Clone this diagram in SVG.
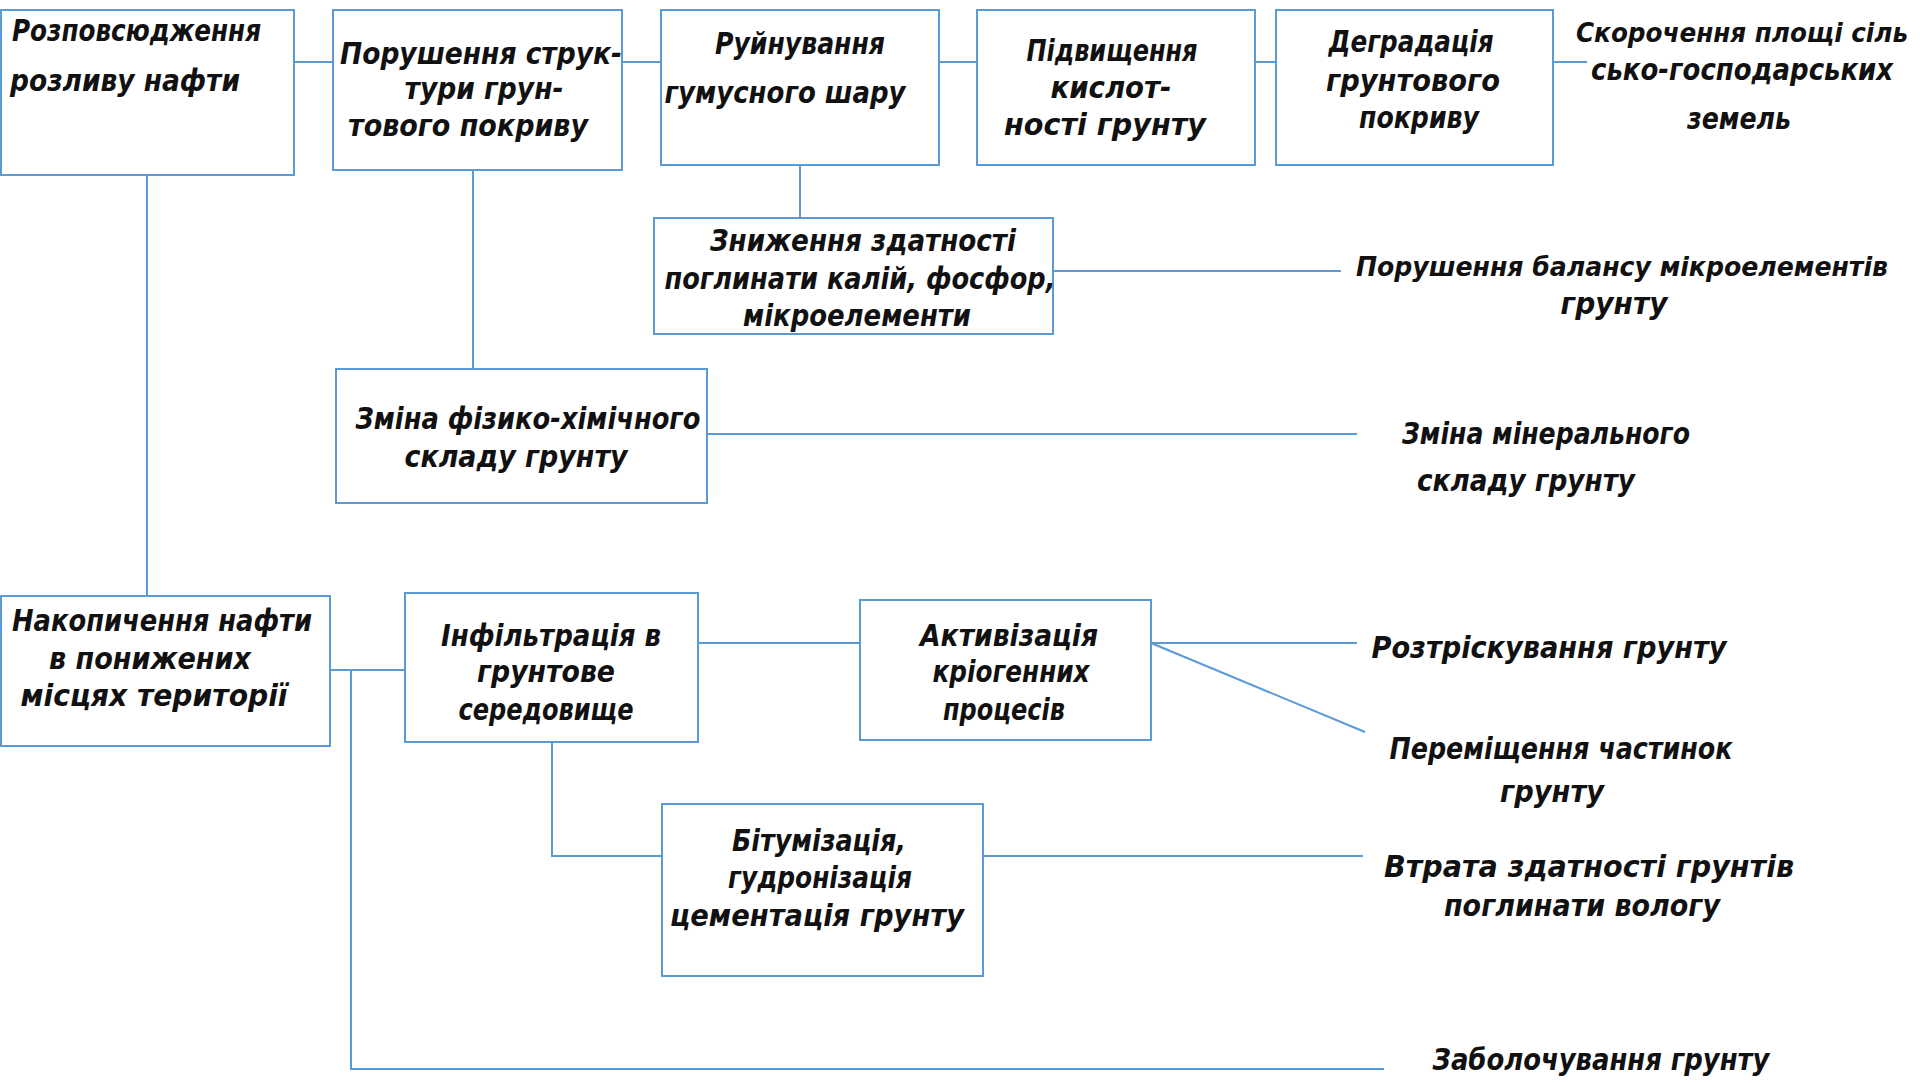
<svg xmlns="http://www.w3.org/2000/svg" width="1920" height="1083" viewBox="0 0 1920 1083">
  <style>
    .box { fill: #ffffff; stroke: #5b9bd5; stroke-width: 2; }
    .ln { fill: none; stroke: #5b9bd5; stroke-width: 2; }
    text { font-family: "DejaVu Sans", "Liberation Sans", sans-serif; font-stretch: condensed; font-style: italic; font-weight: bold; font-size: 31px; fill: #111111; }
    .c { text-anchor: middle; }
    .sm { font-size: 27px; }
  </style>
  <rect width="1920" height="1083" fill="#ffffff"/>

  <!-- connectors -->
  <g id="connectors">
    <line class="ln" x1="294" y1="62" x2="333" y2="62"/>
    <line class="ln" x1="622" y1="62" x2="661" y2="62"/>
    <line class="ln" x1="939" y1="62" x2="977" y2="62"/>
    <line class="ln" x1="1255" y1="62" x2="1276" y2="62"/>
    <line class="ln" x1="1553" y1="62" x2="1587" y2="62"/>
    <line class="ln" x1="147" y1="175" x2="147" y2="596"/>
    <line class="ln" x1="473" y1="170" x2="473" y2="369"/>
    <line class="ln" x1="800" y1="165" x2="800" y2="218"/>
    <line class="ln" x1="1053" y1="271" x2="1341" y2="271"/>
    <line class="ln" x1="707" y1="434" x2="1357" y2="434"/>
    <line class="ln" x1="330" y1="670" x2="405" y2="670"/>
    <polyline class="ln" points="351,670 351,1069 1384,1069"/>
    <line class="ln" x1="698" y1="643" x2="860" y2="643"/>
    <line class="ln" x1="1151" y1="643" x2="1357" y2="643"/>
    <line class="ln" x1="1151" y1="643" x2="1365" y2="732"/>
    <polyline class="ln" points="552,742 552,856 662,856"/>
    <line class="ln" x1="983" y1="856" x2="1363" y2="856"/>
  </g>

  <!-- oil spread -->
  <g id="n-spread">
    <rect class="box" x="1" y="10" width="293" height="165"/>
    <text x="12" y="41" textLength="249" lengthAdjust="spacingAndGlyphs">Розповсюдження</text>
    <text x="10" y="91" textLength="230" lengthAdjust="spacingAndGlyphs">розливу нафти</text>
  </g>

  <g id="n-structure">
    <rect class="box" x="333" y="10" width="289" height="160"/>
    <text class="c" x="481" y="64" textLength="282" lengthAdjust="spacingAndGlyphs">Порушення струк-</text>
    <text class="c" x="484" y="99" textLength="159" lengthAdjust="spacingAndGlyphs">тури грун-</text>
    <text class="c" x="468" y="136" textLength="240" lengthAdjust="spacingAndGlyphs">тового покриву</text>
  </g>

  <g id="n-humus">
    <rect class="box" x="661" y="10" width="278" height="155"/>
    <text class="c" x="800" y="54" textLength="170" lengthAdjust="spacingAndGlyphs">Руйнування</text>
    <text class="c" x="785" y="103" textLength="241" lengthAdjust="spacingAndGlyphs">гумусного шару</text>
  </g>

  <g id="n-acidity">
    <rect class="box" x="977" y="10" width="278" height="155"/>
    <text class="c" x="1112" y="61" textLength="171" lengthAdjust="spacingAndGlyphs">Підвищення</text>
    <text class="c" x="1111" y="98" textLength="121" lengthAdjust="spacingAndGlyphs">кислот-</text>
    <text class="c" x="1105" y="135" textLength="202" lengthAdjust="spacingAndGlyphs">ності грунту</text>
  </g>

  <g id="n-degradation">
    <rect class="box" x="1276" y="10" width="277" height="155"/>
    <text class="c" x="1411" y="52" textLength="165" lengthAdjust="spacingAndGlyphs">Деградація</text>
    <text class="c" x="1413" y="91" textLength="174" lengthAdjust="spacingAndGlyphs">грунтового</text>
    <text class="c" x="1419" y="128" textLength="120" lengthAdjust="spacingAndGlyphs">покриву</text>
  </g>

  <g id="n-farmland">
    <text class="c sm" x="1742" y="42" textLength="332" lengthAdjust="spacingAndGlyphs">Скорочення площі сіль</text>
    <text class="c" x="1742" y="80" textLength="302" lengthAdjust="spacingAndGlyphs">сько-господарських</text>
    <text class="c" x="1739" y="129" textLength="104" lengthAdjust="spacingAndGlyphs">земель</text>
  </g>

  <g id="n-absorption">
    <rect class="box" x="654" y="218" width="399" height="116"/>
    <text class="c" x="863" y="251" textLength="306" lengthAdjust="spacingAndGlyphs">Зниження здатності</text>
    <text class="c" x="860" y="289" textLength="391" lengthAdjust="spacingAndGlyphs">поглинати калій, фосфор,</text>
    <text class="c" x="857" y="326" textLength="228" lengthAdjust="spacingAndGlyphs">мікроелементи</text>
  </g>

  <g id="n-balance">
    <text class="c sm" x="1622" y="276" textLength="532" lengthAdjust="spacingAndGlyphs">Порушення балансу мікроелементів</text>
    <text class="c" x="1614" y="314" textLength="107" lengthAdjust="spacingAndGlyphs">грунту</text>
  </g>

  <g id="n-physchem">
    <rect class="box" x="336" y="369" width="371" height="134"/>
    <text class="c" x="528" y="429" textLength="345" lengthAdjust="spacingAndGlyphs">Зміна фізико-хімічного</text>
    <text class="c" x="516" y="467" textLength="223" lengthAdjust="spacingAndGlyphs">складу грунту</text>
  </g>

  <g id="n-mineral">
    <text class="c" x="1546" y="444" textLength="288" lengthAdjust="spacingAndGlyphs">Зміна мінерального</text>
    <text class="c" x="1526" y="491" textLength="218" lengthAdjust="spacingAndGlyphs">складу грунту</text>
  </g>

  <g id="n-accumulation">
    <rect class="box" x="1" y="596" width="329" height="150"/>
    <text class="c" x="162" y="631" textLength="300" lengthAdjust="spacingAndGlyphs">Накопичення нафти</text>
    <text class="c" x="150" y="669" textLength="202" lengthAdjust="spacingAndGlyphs">в понижених</text>
    <text class="c" x="154" y="706" textLength="267" lengthAdjust="spacingAndGlyphs">місцях території</text>
  </g>

  <g id="n-infiltration">
    <rect class="box" x="405" y="593" width="293" height="149"/>
    <text class="c" x="551" y="646" textLength="220" lengthAdjust="spacingAndGlyphs">Інфільтрація в</text>
    <text class="c" x="546" y="682" textLength="138" lengthAdjust="spacingAndGlyphs">грунтове</text>
    <text class="c" x="546" y="720" textLength="175" lengthAdjust="spacingAndGlyphs">середовище</text>
  </g>

  <g id="n-cryogenic">
    <rect class="box" x="860" y="600" width="291" height="140"/>
    <text class="c" x="1009" y="646" textLength="178" lengthAdjust="spacingAndGlyphs">Активізація</text>
    <text class="c" x="1011" y="682" textLength="157" lengthAdjust="spacingAndGlyphs">кріогенних</text>
    <text class="c" x="1004" y="720" textLength="122" lengthAdjust="spacingAndGlyphs">процесів</text>
  </g>

  <g id="n-cracking">
    <text class="c" x="1549" y="658" textLength="355" lengthAdjust="spacingAndGlyphs">Розтріскування грунту</text>
  </g>

  <g id="n-particles">
    <text class="c" x="1561" y="759" textLength="343" lengthAdjust="spacingAndGlyphs">Переміщення частинок</text>
    <text class="c" x="1552" y="802" textLength="104" lengthAdjust="spacingAndGlyphs">грунту</text>
  </g>

  <g id="n-bitumen">
    <rect class="box" x="662" y="804" width="321" height="172"/>
    <text class="c" x="819" y="851" textLength="174" lengthAdjust="spacingAndGlyphs">Бітумізація,</text>
    <text class="c" x="820" y="888" textLength="184" lengthAdjust="spacingAndGlyphs">гудронізація</text>
    <text class="c" x="817" y="926" textLength="294" lengthAdjust="spacingAndGlyphs">цементація грунту</text>
  </g>

  <g id="n-moisture">
    <text class="c" x="1589" y="877" textLength="410" lengthAdjust="spacingAndGlyphs">Втрата здатності грунтів</text>
    <text class="c" x="1582" y="916" textLength="276" lengthAdjust="spacingAndGlyphs">поглинати вологу</text>
  </g>

  <g id="n-swamping">
    <text class="c" x="1601" y="1070" textLength="337" lengthAdjust="spacingAndGlyphs">Заболочування грунту</text>
  </g>
</svg>
